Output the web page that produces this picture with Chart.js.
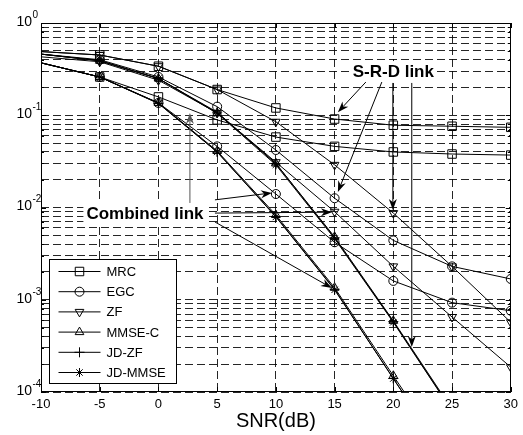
<!DOCTYPE html>
<html>
<head>
<meta charset="utf-8">
<script src="https://cdn.jsdelivr.net/npm/chart.js"></script>
<style>
  body { margin: 0; background: #fff; }
  #grafica { display: block; }
</style>
</head>
<body>
<canvas id="grafica" width="523" height="435"></canvas>
<script>
// eje x: SNR en dB
var snr = [-10, -5, 0, 5, 10, 15, 20, 25, 30];
var xTicks = [-10, -5, 0, 5, 10, 15, 20, 25, 30];
var yDecadas = [-4, -3, -2, -1, 0];

// BER, enlace S-R-D
var mrcSRD = [0.49, 0.45, 0.34, 0.19, 0.12, 0.091, 0.078, 0.076, 0.074];
var egcSRD = [0.46, 0.40, 0.26, 0.124, 0.042, 0.0126, 0.0044, 0.0023, 0.00168];
var zfSRD = [0.49, 0.45, 0.34, 0.19, 0.085, 0.029, 0.0087, 0.0023, 0.00057];
var mmseSRD = [0.46, 0.39, 0.25, 0.106, 0.030, 0.0048, 0.00059, 0.000065, null];
var jdzfSRD = [0.46, 0.39, 0.25, 0.108, 0.030, 0.0047, 0.00058, 0.000063, null];
var jdmmseSRD = [0.46, 0.39, 0.25, 0.105, 0.029, 0.0046, 0.00057, 0.000062, null];

// BER, enlace combinado
var mrcComb = [0.37, 0.26, 0.158, 0.089, 0.058, 0.046, 0.040, 0.038, 0.037];
var egcComb = [0.37, 0.26, 0.136, 0.046, 0.0140, 0.0042, 0.0016, 0.00093, 0.00076];
var zfComb = [0.43, 0.38, 0.24, 0.106, 0.031, 0.0090, 0.0023, 0.00065, 0.000186];
var mmseComb = [0.37, 0.26, 0.136, 0.041, 0.0083, 0.00135, 0.00015, 0.000017, null];
var jdzfComb = [0.37, 0.26, 0.135, 0.040, 0.0080, 0.00130, 0.00014, 0.000016, null];
var jdmmseComb = [0.37, 0.26, 0.134, 0.040, 0.0079, 0.00128, 0.00014, 0.000015, null];

var metodos = [
  { label: 'MRC', srd: mrcSRD, comb: mrcComb, estilo: 'rect', radio: 6, rot: 0 },
  { label: 'EGC', srd: egcSRD, comb: egcComb, estilo: 'circle', radio: 4.5, rot: 0 },
  { label: 'ZF', srd: zfSRD, comb: zfComb, estilo: 'triangle', radio: 5, rot: 180 },
  { label: 'MMSE-C', srd: mmseSRD, comb: mmseComb, estilo: 'triangle', radio: 5, rot: 0 },
  { label: 'JD-ZF', srd: jdzfSRD, comb: jdzfComb, estilo: 'cross', radio: 5, rot: 0 },
  { label: 'JD-MMSE', srd: jdmmseSRD, comb: jdmmseComb, estilo: 'star', radio: 4.5, rot: 0 }
];

// rotulos y flechas, en unidades de los ejes
var rotulos = [
  { texto: 'S-R-D link', x: 20.0, y: 0.294 },
  { texto: 'Combined link', x: -1.15, y: 0.0085 }
];
var flechas = [
  { desde: [17.66, 0.229], hasta: [15.28, 0.108], color: '#000' },
  { desde: [19.02, 0.229], hasta: [15.28, 0.0147], color: '#000' },
  { desde: [19.96, 0.224], hasta: [19.96, 0.0094], color: '#000' },
  { desde: [21.57, 0.224], hasta: [21.57, 0.000308], color: '#000' },
  { desde: [2.68, 0.0112], hasta: [2.68, 0.106], color: '#555' },
  { desde: [4.81, 0.0121], hasta: [9.66, 0.0144], color: '#000' },
  { desde: [4.81, 0.0087], hasta: [14.77, 0.0089], color: '#000' },
  { desde: [4.81, 0.00697], hasta: [14.77, 0.00134], color: '#000' }
];

var fuente = '"Liberation Sans", Arial, sans-serif';
var colorRejilla = 'rgba(0,0,0,0.85)';

var datasets = [];
metodos.forEach(function (m) {
  [m.srd, m.comb].forEach(function (serie) {
    datasets.push({
      label: m.label,
      data: serie.map(function (v, i) { return { x: snr[i], y: v }; }),
      borderColor: '#000',
      borderWidth: 1,
      pointStyle: m.estilo,
      pointRotation: m.rot,
      pointRadius: snr.map(function (s) { return s === -10 ? 0 : m.radio; }),
      pointBorderWidth: 1,
      pointBorderColor: '#000',
      pointBackgroundColor: 'rgba(0,0,0,0)',
      fill: false,
      tension: 0
    });
  });
});

function aPixel(chart, x, y) {
  return [chart.scales.x.getPixelForValue(x), chart.scales.y.getPixelForValue(y)];
}

function dibujarFlecha(c, x1, y1, x2, y2, color) {
  var ang = Math.atan2(y2 - y1, x2 - x1);
  var L = 11, W = 4;
  var cs = Math.cos(ang), sn = Math.sin(ang);
  c.strokeStyle = color;
  c.fillStyle = color;
  c.lineWidth = 1;
  c.beginPath();
  c.moveTo(x1, y1);
  c.lineTo(x2 - L * 0.7 * cs, y2 - L * 0.7 * sn);
  c.stroke();
  c.beginPath();
  c.moveTo(x2, y2);
  c.lineTo(x2 - L * cs + W * sn, y2 - L * sn - W * cs);
  c.lineTo(x2 - L * 0.7 * cs, y2 - L * 0.7 * sn);
  c.lineTo(x2 - L * cs - W * sn, y2 - L * sn + W * cs);
  c.closePath();
  c.fill();
}

function marcador(c, m, x, y) {
  c.strokeStyle = '#000';
  c.fillStyle = 'rgba(0,0,0,0)';
  c.lineWidth = 1;
  Chart.helpers.drawPoint(c, { pointStyle: m.estilo, rotation: m.rot, radius: m.radio, borderWidth: 1 }, x, y);
}

var pluginFigura = {
  id: 'figura',
  beforeDatasetsDraw: function (chart) {
    var c = chart.ctx;
    c.save();
    c.font = 'bold 17px ' + fuente;
    rotulos.forEach(function (r) {
      var p = aPixel(chart, r.x, r.y);
      var w = c.measureText(r.texto).width;
      c.fillStyle = '#fff';
      c.fillRect(p[0] - w / 2 - 3, p[1] - 11, w + 6, 22);
    });
    c.restore();
  },
  afterDatasetsDraw: function (chart) {
    var c = chart.ctx;
    c.save();
    flechas.forEach(function (f) {
      var a = aPixel(chart, f.desde[0], f.desde[1]);
      var b = aPixel(chart, f.hasta[0], f.hasta[1]);
      dibujarFlecha(c, a[0], a[1], b[0], b[1], f.color);
    });
    c.font = 'bold 17px ' + fuente;
    c.fillStyle = '#000';
    c.textAlign = 'center';
    c.textBaseline = 'middle';
    rotulos.forEach(function (r) {
      var p = aPixel(chart, r.x, r.y);
      c.fillText(r.texto, p[0], p[1]);
    });
    c.restore();
  },
  afterDraw: function (chart) {
    var c = chart.ctx;
    var area = chart.chartArea;
    var sy = chart.scales.y;
    var sx = chart.scales.x;
    c.save();

    // marco y marcas interiores
    c.strokeStyle = '#000';
    c.lineWidth = 1;
    c.strokeRect(Math.round(area.left) + 0.5, Math.round(area.top) + 0.5,
      Math.round(area.right - area.left) - 1, Math.round(area.bottom - area.top) - 1);
    c.beginPath();
    xTicks.forEach(function (v) {
      var x = Math.round(sx.getPixelForValue(v)) + 0.5;
      c.moveTo(x, area.bottom); c.lineTo(x, area.bottom - 5);
      c.moveTo(x, area.top); c.lineTo(x, area.top + 5);
    });
    yDecadas.forEach(function (k) {
      for (var m = 1; m <= 9; m++) {
        var v = m * Math.pow(10, k);
        if (v > 1) break;
        var y = Math.round(sy.getPixelForValue(v)) + 0.5;
        var len = m === 1 ? 5 : 3;
        c.moveTo(area.left, y); c.lineTo(area.left + len, y);
        c.moveTo(area.right, y); c.lineTo(area.right - len, y);
      }
    });
    c.stroke();

    // etiquetas del eje y: 10 con exponente
    c.fillStyle = '#000';
    c.textBaseline = 'middle';
    yDecadas.forEach(function (k) {
      var y = sy.getPixelForValue(Math.pow(10, k));
      c.font = '14px ' + fuente;
      c.textAlign = 'right';
      c.fillText('10', 32, y - 1);
      c.font = '10px ' + fuente;
      c.textAlign = 'left';
      c.fillText(String(k), 32.5, y - 8);
    });

    // leyenda dentro del grafico, abajo a la izquierda
    var lx = Math.round(area.left) + 8.5;
    var lb = Math.round(area.bottom) - 8.5;
    var lw = 127, lh = 124;
    var ly = lb - lh;
    c.fillStyle = '#fff';
    c.fillRect(lx, ly, lw, lh);
    c.strokeStyle = '#000';
    c.strokeRect(lx, ly, lw, lh);
    c.font = '13px ' + fuente;
    c.textAlign = 'left';
    metodos.forEach(function (m, i) {
      var y = ly + 12 + i * 20.2;
      c.strokeStyle = '#000';
      c.beginPath();
      c.moveTo(lx + 9, y); c.lineTo(lx + 51, y);
      c.stroke();
      marcador(c, m, lx + 30, y);
      c.fillStyle = '#000';
      c.fillText(m.label, lx + 57, y + 1);
    });
    c.restore();
  }
};

var grafica = new Chart(document.getElementById('grafica').getContext('2d'), {
  type: 'line',
  data: { datasets: datasets },
  options: {
    responsive: false,
    animation: false,
    devicePixelRatio: 1,
    layout: { padding: { left: 0, right: 12, top: 23, bottom: 0 } },
    plugins: {
      legend: { display: false },
      tooltip: { enabled: false }
    },
    scales: {
      x: {
        type: 'linear',
        min: -10,
        max: 30,
        afterBuildTicks: function (s) { s.ticks = xTicks.map(function (v) { return { value: v }; }); },
        afterFit: function (s) { s.height = 43; },
        grid: { color: colorRejilla, lineWidth: 1, drawTicks: false },
        border: { display: false, dash: [8, 4] },
        ticks: { color: '#000', font: { family: fuente, size: 13 }, padding: 5, maxRotation: 0, autoSkip: false },
        title: { display: true, text: 'SNR(dB)', color: '#000', font: { family: fuente, size: 20 }, padding: { top: 0, bottom: 2 } }
      },
      y: {
        type: 'logarithmic',
        min: 1e-4,
        max: 1,
        afterBuildTicks: function (s) {
          var t = [];
          yDecadas.forEach(function (k) {
            for (var m = 1; m <= 9; m++) {
              var v = m * Math.pow(10, k);
              if (v <= 1) t.push({ value: v });
            }
          });
          s.ticks = t;
        },
        afterFit: function (s) { s.width = 41; },
        grid: { color: colorRejilla, lineWidth: 1, drawTicks: false },
        border: { display: false, dash: [8, 4] },
        ticks: { display: false }
      }
    }
  },
  plugins: [pluginFigura]
});
</script>
</body>
</html>
